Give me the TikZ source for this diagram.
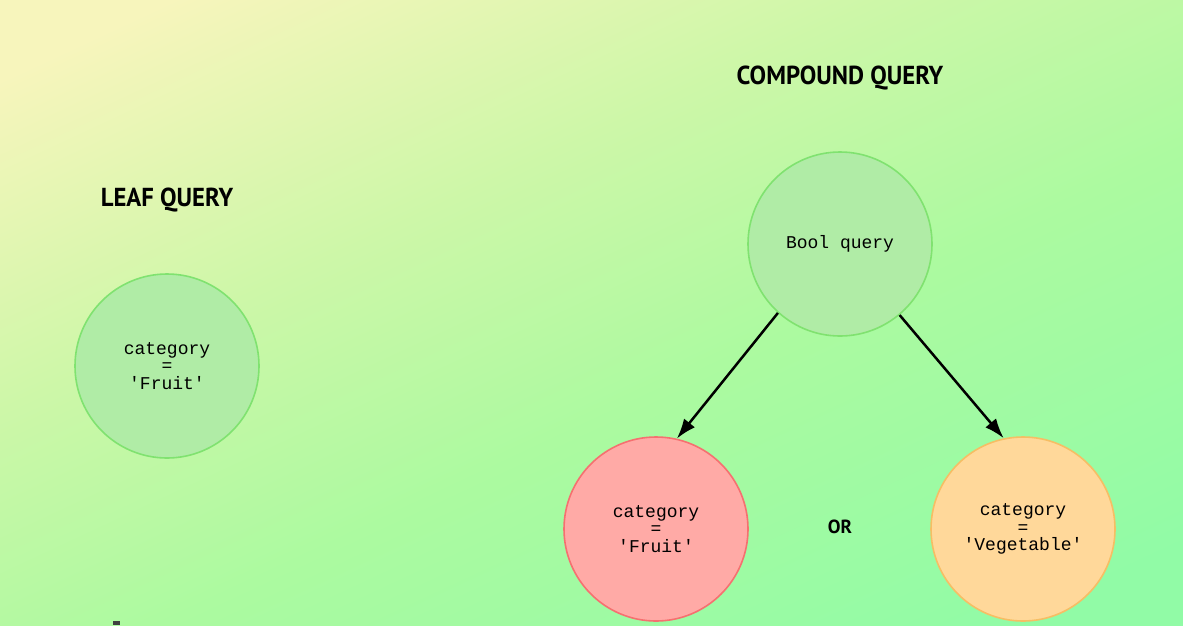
\documentclass[tikz,border=0pt]{standalone}
\usepackage{fontspec}
\setmainfont{Liberation Sans}
\newfontfamily\monof{Liberation Mono}
\newfontfamily\titlef{PT Sans}
\usetikzlibrary{arrows.meta,shadings}
\definecolor{bgA}{RGB}{247,245,188}
\definecolor{bgB}{RGB}{205,247,168}
\definecolor{bgM}{RGB}{172,250,160}
\definecolor{bgC}{RGB}{145,251,166}
\definecolor{gFill}{RGB}{176,236,166}
\definecolor{gLine}{RGB}{128,226,112}
\definecolor{rFill}{RGB}{255,170,166}
\definecolor{rLine}{RGB}{246,112,112}
\definecolor{oFill}{RGB}{255,216,154}
\definecolor{oLine}{RGB}{246,190,100}
\pgfdeclareverticalshading{bgshade}{100bp}{color(0bp)=(bgC); color(27bp)=(bgC); color(45bp)=(bgM); color(58bp)=(bgB); color(73bp)=(bgA); color(100bp)=(bgA)}
\tikzset{
  qcircle/.style={circle, minimum size=184pt, inner sep=0pt, line width=1.6pt, align=center,
    font=\monof\fontsize{18}{17.5}\selectfont},
  green/.style={qcircle, fill=gFill, draw=gLine},
  red/.style={qcircle, fill=rFill, draw=rLine},
  orange/.style={qcircle, fill=oFill, draw=oLine},
  title/.style={font=\titlef\bfseries\fontsize{26}{26}\selectfont, inner sep=0pt},
  arr/.style={-{Latex[length=20pt,width=14pt]}, line width=2.5pt, black}
}
\begin{document}
\begin{tikzpicture}[x=1pt,y=-1pt]
\useasboundingbox (0,0) rectangle (1183,625);
\shade[shading=bgshade, shading angle=25] (-100,-100) rectangle (1283,725);
\path[use as bounding box] (0,0) rectangle (1183,625);
\node[title] (leaft) at (167,200) {\scalebox{0.95}[1]{LEAF QUERY}};
\node[title] (compt) at (840,78) {\scalebox{0.95}[1]{COMPOUND QUERY}};
\node[green] (leaf) at (167,366) {category\\=\\'Fruit'};
\node[green] (bool) at (840,244) {Bool query};
\node[red] (fruit) at (656,529) {category\\=\\'Fruit'};
\node[orange] (veg) at (1023,529) {category\\=\\'Vegetable'};
\node[title, font=\titlef\bfseries\fontsize{19}{19}\selectfont] (or) at (840,527) {OR};
\draw[arr] (bool.228.5) -- (fruit.77.5);
\draw[arr] (bool.310.5) -- (veg.102.5);
\fill[black!75] (113,621) rectangle (120,625);
\end{tikzpicture}
\end{document}
